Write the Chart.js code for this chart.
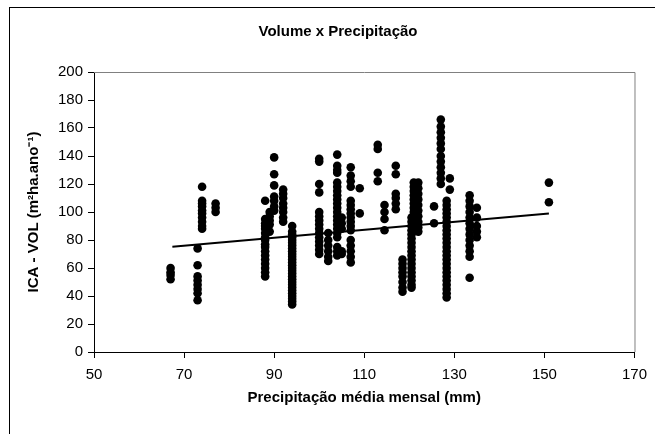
<!DOCTYPE html>
<html>
<head>
    <meta charset="utf-8">
    <title>Volume x Precipitação</title>
    <script src="https://cdn.jsdelivr.net/npm/chart.js"></script>
    <style>
        body { margin: 0; background: #fff; }
        #wrap { width: 655px; height: 434px; }
    </style>
</head>
<body>
    <div id="wrap"><canvas id="myChart" width="655" height="434"></canvas></div>

    <script>
        const chartTitle = 'Volume x Precipitação';
        const xTitle = 'Precipitação média mensal (mm)';
        const yTitle = 'ICA - VOL (m²ha.ano⁻¹)';

        // precipitation (mm) of each column of observations
        const precip = [67, 73, 74, 77, 88, 89, 90, 92, 94, 100, 102, 104, 105, 107, 109,
                        113, 114.5, 117, 118.5, 120.5, 121, 122, 125.5, 127, 128.3, 129, 133.4, 135, 151];

        // ICA - VOL values observed at each precipitation value
        const volume = [
            [52, 55, 57, 60],
            [74, 62, 54, 51, 48, 45, 42, 37],
            [118, 108, 106, 104, 101, 99, 96, 93, 90, 88],
            [100, 103, 106],
            [108, 95, 92, 90, 88, 85, 82, 80, 77, 75, 72, 69, 66, 63, 60, 57, 54],
            [100, 97, 94, 91, 86],
            [139, 127, 119, 111, 108, 104, 101],
            [116, 113, 110, 106, 103, 100, 96, 93],
            [90, 86, 84, 82, 80, 78, 76, 74, 72, 70, 68, 66, 64, 62, 60, 58, 56, 54, 52, 50, 48, 46, 44, 42, 40, 38, 36, 34],
            [138, 136, 120, 114, 100, 97, 94, 91, 88, 85, 82, 79, 76, 73, 70],
            [85, 80, 76, 72, 68, 65],
            [141, 133, 130, 128, 121, 118, 115, 112, 109, 106, 103, 100, 97, 94, 91, 88, 85, 82, 75, 72, 69],
            [96, 92, 88, 72, 70],
            [132, 126, 122, 118, 108, 105, 102, 99, 96, 93, 90, 87, 80, 76, 72, 68, 64],
            [117, 99],
            [148, 145, 128, 122],
            [105, 100, 95, 87],
            [133, 127, 113, 110, 106, 102],
            [66, 63, 60, 57, 54, 50, 46, 43],
            [96, 93, 90, 87, 84, 81, 78, 75, 72, 69, 66, 63, 60, 57, 54, 51, 48, 46],
            [121, 118, 115, 112, 109, 106, 103, 100],
            [121, 117, 113, 109, 105, 101, 97, 93, 89, 86],
            [104, 92],
            [166, 161, 157, 153, 149, 145, 140, 136, 132, 128, 124, 120],
            [108, 105, 102, 99, 96, 93, 90, 87, 84, 81, 78, 75, 72, 69, 66, 63, 60, 57, 54, 51, 48, 45, 42, 39],
            [124, 116],
            [112, 108, 104, 100, 96, 92, 88, 84, 80, 76, 72, 68, 53],
            [103, 96, 90, 86, 82],
            [121, 107]
        ];

        // linear trend line end points
        const trendX = [67.4, 151];
        const trendY = [75.2, 98.9];

        const points = precip.flatMap((p, i) => volume[i].map(v => ({ x: p, y: v })));
        const trend = trendX.map((x, i) => ({ x: x, y: trendY[i] }));

        const font = 'Liberation Sans, Arial, sans-serif';

        const framePlugin = {
            id: 'frame',
            beforeDraw(chart) {
                const c = chart.ctx;
                c.save();
                c.fillStyle = '#fff';
                c.fillRect(0, 0, chart.width, chart.height);
                c.strokeStyle = '#000';
                c.lineWidth = 1;
                c.strokeRect(9.5, 7.5, 700, 500);
                c.restore();
            },
            beforeDatasetsDraw(chart) {
                const a = chart.chartArea;
                const c = chart.ctx;
                c.save();
                c.strokeStyle = '#808080';
                c.lineWidth = 1;
                c.beginPath();
                c.moveTo(a.left, a.top + 0.5);
                c.lineTo(a.right + 0.5, a.top + 0.5);
                c.lineTo(a.right + 0.5, a.bottom);
                c.stroke();
                c.restore();
            },
            afterDraw(chart) {
                const c = chart.ctx;
                c.save();
                c.fillStyle = '#000';
                c.font = 'bold 15px ' + font;
                c.textAlign = 'center';
                c.textBaseline = 'middle';
                c.fillText(chartTitle, 338, 32);
                c.restore();
            }
        };

        const ctx = document.getElementById('myChart').getContext('2d');
        const chart = new Chart(ctx, {
            type: 'scatter',
            data: {
                datasets: [{
                    type: 'line',
                    data: trend,
                    borderColor: '#000',
                    borderWidth: 2,
                    pointRadius: 0,
                    fill: false
                }, {
                    data: points,
                    backgroundColor: '#000',
                    borderColor: '#000',
                    pointRadius: 4.3,
                    borderWidth: 0
                }]
            },
            options: {
                responsive: false,
                animation: false,
                layout: { padding: { left: 0, right: 19, top: 72, bottom: 0 } },
                plugins: {
                    legend: { display: false },
                    tooltip: { enabled: false }
                },
                scales: {
                    x: {
                        type: 'linear',
                        min: 50,
                        max: 170,
                        ticks: { stepSize: 20, color: '#000', font: { family: font, size: 15 }, padding: 8, maxRotation: 0 },
                        grid: { drawOnChartArea: false, color: '#000', tickLength: 6 },
                        border: { color: '#000', width: 1 },
                        title: { display: true, text: xTitle, color: '#000', font: { family: font, size: 15, weight: 'bold' }, padding: { top: 0, bottom: 27 } },
                        afterFit(scale) { scale.height = 82; }
                    },
                    y: {
                        min: 0,
                        max: 200,
                        ticks: { stepSize: 20, color: '#000', font: { family: font, size: 15 }, padding: 5 },
                        grid: { drawOnChartArea: false, color: '#000', tickLength: 6 },
                        border: { color: '#000', width: 1 },
                        title: { display: true, text: yTitle, color: '#000', font: { family: font, size: 15, weight: 'bold' }, padding: { top: 25, bottom: 0 } },
                        afterFit(scale) { scale.width = 94; }
                    }
                }
            },
            plugins: [framePlugin]
        });
    </script>
</body>
</html>
